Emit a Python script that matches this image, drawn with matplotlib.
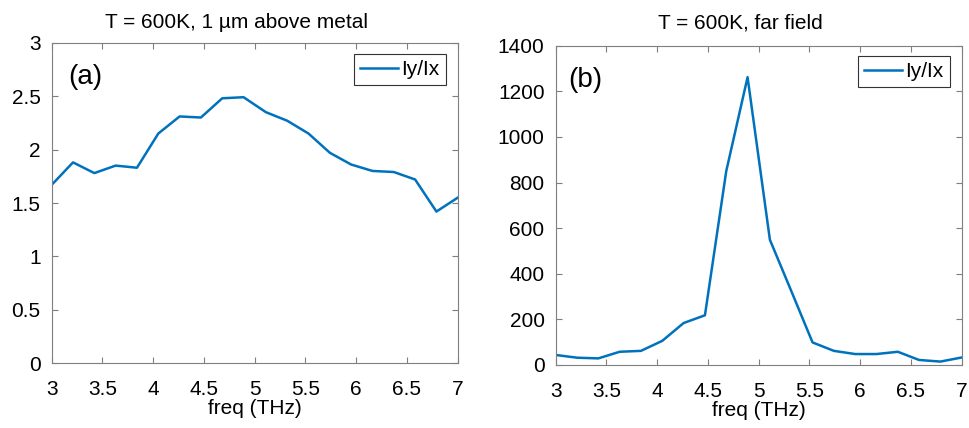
import matplotlib.pyplot as plt

plt.rcParams['font.family'] = ['Liberation Sans', 'DejaVu Sans']

# frequency samples (THz)
freq = [3.0, 3.21, 3.42, 3.63, 3.84, 4.05, 4.26, 4.47, 4.68, 4.89,
        5.11, 5.32, 5.53, 5.74, 5.95, 6.16, 6.37, 6.58, 6.79, 7.0]

# Iy/Ix, 1 um above metal
ratio_near = [1.67, 1.88, 1.78, 1.85, 1.83, 2.15, 2.31, 2.30, 2.48, 2.49,
              2.35, 2.27, 2.15, 1.97, 1.86, 1.80, 1.79, 1.72, 1.42, 1.55]

# Iy/Ix, far field
ratio_far = [44, 32, 29, 58, 62, 106, 184, 218, 850, 1262,
             549, 325, 99, 62, 48, 48, 58, 22, 15, 33]

xticks = [3, 3.5, 4, 4.5, 5, 5.5, 6, 6.5, 7]
xticklabels = ['3', '3.5', '4', '4.5', '5', '5.5', '6', '6.5', '7']
yticks_a = [0, 0.5, 1, 1.5, 2, 2.5, 3]
yticklabels_a = ['0', '0.5', '1', '1.5', '2', '2.5', '3']
yticks_b = [0, 200, 400, 600, 800, 1000, 1200, 1400]

line_color = '#0072BD'
spine_color = '#7f7f7f'

fig = plt.figure(figsize=(9.7, 4.28), dpi=100)
ax1 = fig.add_axes([0.0533, 0.1512, 0.4186, 0.749])
ax2 = fig.add_axes([0.5729, 0.1472, 0.4186, 0.746])


def style(ax, title, pad, label, lx, legtop):
    ax.set_xlim(3, 7)
    ax.set_xticks(xticks)
    ax.set_xticklabels(xticklabels)
    ax.tick_params(direction='in', top=True, right=True, length=4,
                   width=0.8, color=spine_color, labelsize=15, pad=8,
                   labelcolor='black')
    ax.tick_params(axis='x', pad=12)
    for s in ax.spines.values():
        s.set_color(spine_color)
        s.set_linewidth(0.8)
    ax.set_xlabel('freq (THz)', fontsize=15, labelpad=0)
    ax.set_title(title, fontsize=15, x=0.455, pad=pad)
    ax.text(lx, 0.894, label, transform=ax.transAxes, fontsize=20,
            ha='left', va='center')
    leg = ax.legend(loc='upper right', bbox_to_anchor=(0.971, legtop),
                    fontsize=15, handlelength=1.85, handletextpad=0.15,
                    borderpad=0.3, borderaxespad=0, fancybox=False,
                    framealpha=1, edgecolor='#333333')
    leg.get_frame().set_linewidth(0.8)


ax1.plot(freq, ratio_near, color=line_color, lw=1.8, label='Iy/Ix')
ax1.set_ylim(0, 3)
ax1.set_yticks(yticks_a)
ax1.set_yticklabels(yticklabels_a)
style(ax1, 'T = 600K, 1 µm above metal', 10.4, '(a)', 0.04, 0.965)

ax2.plot(freq, ratio_far, color=line_color, lw=1.8, label='Iy/Ix')
ax2.set_ylim(0, 1400)
ax2.set_yticks(yticks_b)
style(ax2, 'T = 600K, far field', 12.5, '(b)', 0.03, 0.969)

fig.savefig('out.png', dpi=100)
